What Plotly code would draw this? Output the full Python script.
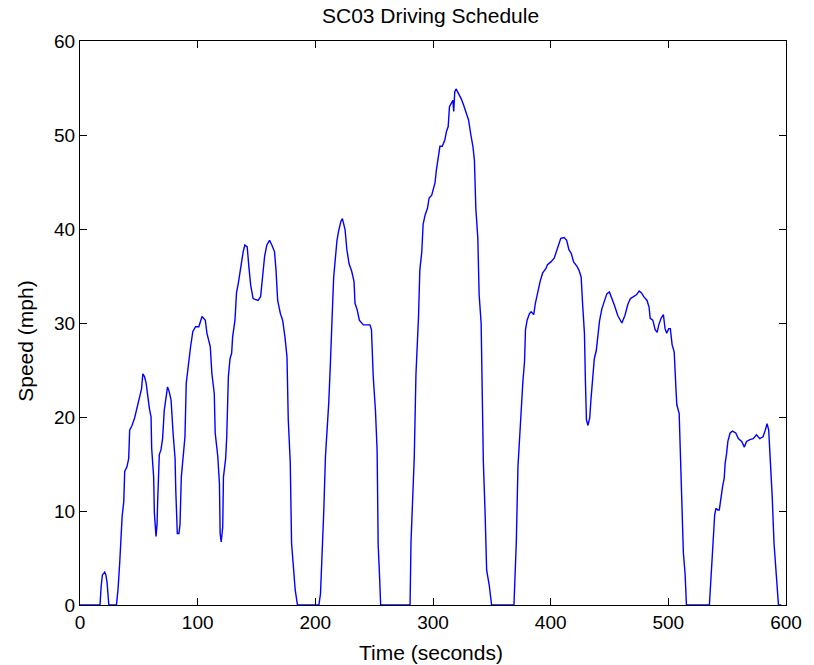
import plotly.graph_objects as go

# SC03 speed trace: time (s) and speed (mph)
time_s = [
    0, 17, 18, 19, 21, 22, 23, 24.5, 31, 32.4, 33.8, 34.6, 35.8, 37.2, 38, 39.9,
    41.4, 42.2, 44.2, 46.4, 47.8, 49.7, 51.1, 52.3, 53.4, 54.8, 56.2, 57.9, 59,
    60.4, 60.9, 62.6, 63.2, 64.6, 65.5, 66, 67.4, 68.8, 70.2, 71.6, 73, 74.4,
    75.8, 77.4, 79.1, 80.8, 81.4, 82.7, 84.1, 85, 86.1, 87.5, 89.2, 90.3, 92,
    94, 95.9, 98.2, 101, 103.7, 106.5, 107.9, 110.7, 112.1, 114.1, 114.9, 117.1,
    118.5, 119.1, 120, 121.3, 121.9, 123.8, 124.7, 126.1, 127.5, 128.9, 129.7,
    131.7, 133, 134.5, 135.9, 137.2, 138.7, 140.1, 142.1, 143.5, 145.1, 147.1,
    151.3, 153.5, 155.5, 156.9, 158.8, 161.1, 163, 165.3, 166.6, 168, 170.3,
    172.2, 174.2, 175.9, 177, 178.7, 179.8, 181.5, 182.9, 184.8, 203, 204.4,
    205.8, 207.2, 208.6, 210, 211.4, 212.8, 213.6, 214.8, 215.6, 217, 218.4,
    219.8, 221.7, 223, 225.3, 226.8, 228.7, 230.9, 232.9, 233.7, 235.6, 237.4,
    240.8, 246.4, 247.7, 249.2, 251.1, 252.5, 253.4, 254.7, 255.5, 280.5, 281.3,
    282.7, 284.1, 285.5, 286.9, 287.7, 288.8, 290.5, 291.6, 293.3, 295.3, 296.7,
    298.9, 300.3, 301.7, 302.9, 304.2, 305.9, 307.9, 310.1, 311.5, 312.9, 314,
    315.7, 316.9, 317.6, 318.5, 319.6, 321.8, 323.8, 326, 328, 330.2, 332.2,
    333.9, 335.2, 336.4, 338.1, 339.2, 340.9, 341.4, 342.8, 344.2, 345.6, 347.8,
    349.8, 368.8, 369.4, 370.8, 372.2, 373.6, 375, 376.4, 377.8, 378.6, 380, 382,
    383.4, 385.6, 387, 389, 391, 393.1, 396, 397.3, 400.2, 403, 404.9, 407.2,
    408.6, 411.4, 413.6, 415.5, 417.5, 419.5, 422.5, 424.1, 425.9, 427.2, 428.7,
    429.5, 430.4, 431.7, 433.2, 434.2, 435.6, 437.1, 438.8, 439.9, 441.5, 443.5,
    445.5, 447.7, 449.9, 451.9, 454.4, 457, 460.5, 463.1, 465.6, 467.8, 470.1,
    472.9, 475.2, 477.2, 479.1, 481.9, 483.6, 484.6, 486.8, 488.8, 490.5, 491.9,
    493.8, 495.8, 497.2, 498.6, 500.3, 501.7, 503.2, 505, 506.4, 507.2, 509.2,
    510.1, 511.4, 512.8, 514.2, 515.4, 534.9, 535.8, 537.2, 538.6, 539.4, 540.5,
    542, 543.3, 544.7, 546.1, 547.5, 548.3, 549.5, 550.6, 552.5, 554.5, 557.3,
    559.5, 562.3, 564.6, 566.5, 569.3, 572.1, 574.9, 577.7, 580.5, 582.4, 583.9,
    585.3, 586.1, 587.5, 588.3, 589.8, 591.1, 592.5, 593.6, 596,
]
speed_mph = [
    0, 0, 2.0, 3.2, 3.5, 3.2, 2.4, 0, 0, 1.8, 4.6, 7.1, 9.4, 11.0, 14.2, 14.7,
    15.6, 18.6, 19.1, 19.9, 20.6, 21.5, 22.2, 23.0, 24.6, 24.3, 23.6, 21.8, 20.9,
    20.0, 16.7, 13.6, 9.8, 7.3, 8.6, 11.0, 16.0, 16.5, 17.7, 20.7, 22.2, 23.2,
    22.7, 21.8, 18.3, 15.6, 12.2, 7.6, 7.6, 8.6, 13.6, 15.4, 17.9, 23.6, 25.5,
    27.5, 29.1, 29.6, 29.6, 30.7, 30.3, 28.9, 27.5, 24.6, 22.5, 18.3, 15.8,
    12.9, 7.6, 6.7, 8.3, 13.6, 15.6, 17.9, 24.3, 26.2, 26.8, 28.5,
    30.3, 33.2, 34.2, 35.3, 36.7, 37.6, 38.3, 38.1, 36.0, 34.0, 32.6,
    32.4, 32.8, 35.3, 37.1, 38.3, 38.8, 38.3, 37.6, 35.6, 32.4, 31.0,
    30.3, 28.5, 26.4, 19.7, 15.1, 6.6, 3.4, 1.6, 0, 0, 1.2,
    5.1, 10.1, 15.8, 18.3, 21.5, 25.7, 29.3, 32.4, 34.9, 37.4, 38.8,
    39.8, 40.8, 41.1, 39.9, 37.8, 36.3, 35.5, 34.4, 32.1, 31.4, 30.3,
    29.8, 29.8, 29.3, 24.3, 20.7, 16.5, 6.4, 2.7, 0, 0, 6.7,
    11.2, 15.8, 24.5, 27.7, 30.7, 35.6, 37.6, 40.5, 41.5, 42.2, 43.3,
    43.6, 44.3, 44.9, 46.3, 47.3, 48.8, 48.8, 49.5, 50.4, 50.9, 53.0,
    53.5, 53.7, 52.5, 54.6, 54.9, 54.4, 53.9, 53.2, 52.5, 51.6, 50.0,
    48.8, 47.3, 42.2, 39.0, 33.0, 30.0, 26.4, 15.2, 10.1, 3.7, 2.1,
    0, 0, 1.9, 6.7, 14.7, 17.6, 21.8, 23.8, 25.9, 29.3, 30.3, 31.0,
    31.2, 30.9, 32.1, 33.3, 34.4, 35.3, 35.8, 36.2, 36.5, 36.9, 37.6, 38.5,
    39.0, 39.1, 38.8, 37.8, 37.4, 36.5, 36.0, 35.6, 34.9, 31.9, 28.9,
    24.0, 19.7, 19.1, 19.9, 21.8, 23.8, 26.2, 27.1, 28.6, 30.2, 31.5,
    32.2, 33.1, 33.3, 32.7, 31.8, 30.8, 30.0, 30.8, 32.0, 32.6, 32.8,
    33.0, 33.4, 33.2, 32.8, 32.4, 31.7, 30.5, 30.3, 29.3, 29.0, 29.8,
    30.5, 30.9, 29.4, 28.9, 29.4, 29.4, 27.7, 26.9, 23.2, 21.3, 20.4,
    16.1, 11.5, 5.5, 3.4, 0, 0, 1.9, 5.5, 7.4, 9.6, 10.3,
    10.1, 10.1, 11.7, 12.6, 13.5, 15.1, 16.1, 17.4, 18.3, 18.5, 18.3,
    17.7, 17.4, 16.8, 17.4, 17.6, 17.7, 18.1, 17.7, 17.9, 18.6, 19.3,
    18.6, 16.5, 14.4, 11.5, 6.6, 4.6, 1.9, 0, 0,
]

x_ticks = [0, 100, 200, 300, 400, 500, 600]
y_ticks = [0, 10, 20, 30, 40, 50, 60]

FONT = "Liberation Sans, Arial, Helvetica, sans-serif"

fig = go.Figure(
    go.Scatter(
        x=time_s,
        y=speed_mph,
        mode="lines",
        line=dict(color="#0000ff", width=1.4),
        hoverinfo="x+y",
    )
)

axis_common = dict(
    showgrid=False,
    zeroline=False,
    showline=True,
    linecolor="black",
    linewidth=1,
    mirror="ticks",
    ticks="inside",
    ticklen=7,
    tickwidth=1,
    tickcolor="black",
    tickfont=dict(family=FONT, size=19, color="black"),
)

fig.update_layout(
    width=814,
    height=665,
    margin=dict(l=80, r=19, t=41, b=60),
    paper_bgcolor="white",
    plot_bgcolor="white",
    showlegend=False,
    xaxis=dict(range=[0, 600], tickvals=x_ticks, **axis_common),
    yaxis=dict(range=[0, 60], tickvals=y_ticks, **axis_common),
    annotations=[
        dict(text="SC03 Driving Schedule", xref="paper", yref="paper",
             x=0.496, y=1 + 25 / 564, xanchor="center", yanchor="middle",
             showarrow=False, font=dict(family=FONT, size=21, color="black")),
        dict(text="Time (seconds)", xref="paper", yref="paper",
             x=0.497, y=-47 / 564, xanchor="center", yanchor="middle",
             showarrow=False, font=dict(family=FONT, size=21, color="black")),
        dict(text="Speed (mph)", xref="paper", yref="paper",
             x=-56 / 715, y=0.468, xanchor="center", yanchor="middle",
             textangle=-90, showarrow=False,
             font=dict(family=FONT, size=21, color="black")),
    ],
)

fig.write_html("out.html")
